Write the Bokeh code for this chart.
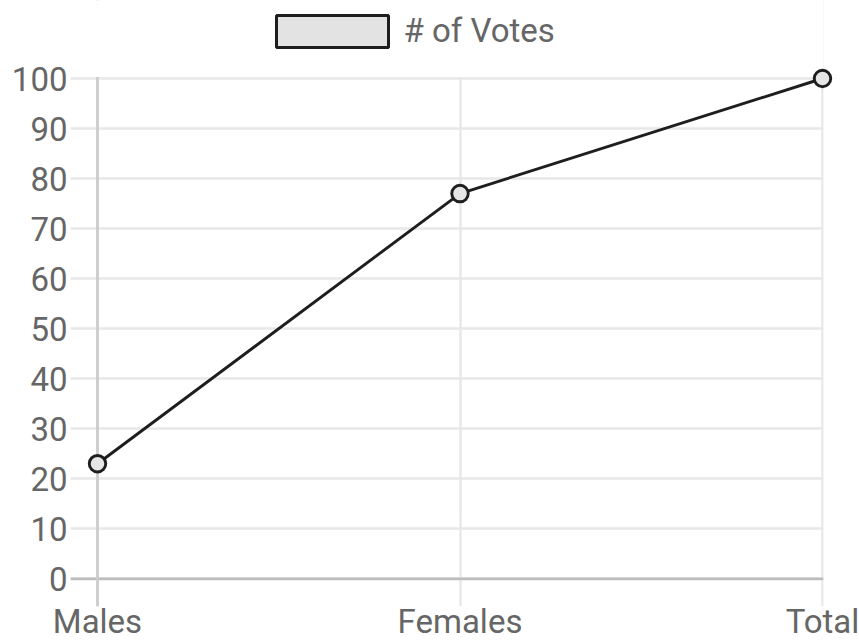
from bokeh.plotting import figure
from bokeh.models import Range1d, FixedTicker, Span, Legend, LegendItem, BoxAnnotation
from bokeh.embed import file_html
from bokeh.resources import INLINE

# Data
categories = ["Males", "Females", "Total"]
votes = [23, 77, 100]
series_name = "# of Votes"
y_ticks = list(range(0, 101, 10))

x_pos = list(range(len(categories)))

# Canvas and frame layout (pixels); the frame reaches the top edge so the
# legend can sit inside it, above the plotting area.
W, H = 859, 643
B_LEFT, B_RIGHT, B_TOP, B_BOTTOM = 70, 36, 0, 37
FRAME_W = W - B_LEFT - B_RIGHT
FRAME_H = H - B_TOP - B_BOTTOM

X_PX_PER_UNIT = 362.5
Y_PX_PER_UNIT = 5.003
x_start = -27 / X_PX_PER_UNIT          # y-grid tick marks stick out 27px left of "Males"
x_end = x_start + FRAME_W / X_PX_PER_UNIT
y_end = 100 + 78 / Y_PX_PER_UNIT       # value 100 sits 78px below the top edge
y_start = y_end - FRAME_H / Y_PX_PER_UNIT

FONT = "Roboto"
TEXT_COLOR = "#666666"
GRID_COLOR = "#e8e8e8"
INK = "#1e1e1e"

p = figure(
    width=W, height=H,
    x_range=Range1d(x_start, x_end), y_range=Range1d(y_start, y_end),
    output_backend="svg", toolbar_location=None,
    min_border_left=B_LEFT, min_border_right=B_RIGHT,
    min_border_top=B_TOP, min_border_bottom=B_BOTTOM,
)
p.outline_line_color = None
p.background_fill_color = "white"
p.border_fill_color = "white"

# Axes
p.xaxis.ticker = FixedTicker(ticks=x_pos)
p.xaxis.major_label_overrides = {i: c for i, c in enumerate(categories)}
p.yaxis.ticker = FixedTicker(ticks=y_ticks)
for ax in (p.xaxis[0], p.yaxis[0]):
    ax.axis_line_color = None
    ax.major_tick_line_color = None
    ax.minor_tick_line_color = None
    ax.major_label_text_font = FONT
    ax.major_label_text_font_size = "33px"
    ax.major_label_text_color = TEXT_COLOR
p.xaxis.major_label_standoff = -11
p.yaxis.major_label_standoff = -3

# Grid
p.xgrid.ticker = FixedTicker(ticks=x_pos)
p.ygrid.ticker = FixedTicker(ticks=y_ticks)
for g in (p.xgrid[0], p.ygrid[0]):
    g.grid_line_color = GRID_COLOR
    g.grid_line_width = 2.5

# Zero lines
p.add_layout(Span(location=0, dimension="width", line_color="#bdbdbd", line_width=2.75))
p.add_layout(Span(location=0, dimension="height", line_color="#cccccc", line_width=2.75))

# Blank band above the top gridline (the legend lives there)
p.add_layout(BoxAnnotation(bottom=100 + 1.6 / Y_PX_PER_UNIT, fill_color="white",
                           fill_alpha=1, line_color=None))

# Series
line_r = p.line(x_pos, votes, line_color=INK, line_width=2.9, level="overlay")
pts_r = p.scatter(x_pos, votes, size=16.5, marker="circle", fill_color="#e6e6e6",
                  line_color=INK, line_width=2.9, level="overlay")

# Box-style legend swatch for the series (not drawn in the plot area itself)
swatch = p.vbar(x=x_pos, top=votes, width=0, fill_color="#e3e3e3",
                line_color=INK, line_width=3, visible=False)

frame_bottom = H - B_BOTTOM
legend = Legend(
    items=[LegendItem(label=series_name, renderers=[swatch])],
    location=(191.5, frame_bottom - 3 - 47.7),
    orientation="horizontal",
    glyph_width=140, glyph_height=40,
    label_standoff=2, padding=0, margin=0, spacing=0,
    label_text_font=FONT, label_text_font_size="33px", label_text_color=TEXT_COLOR,
    border_line_color=None, background_fill_alpha=0, inactive_fill_alpha=0,
)
p.add_layout(legend, "center")

open("out.html", "w").write(file_html(p, INLINE))
